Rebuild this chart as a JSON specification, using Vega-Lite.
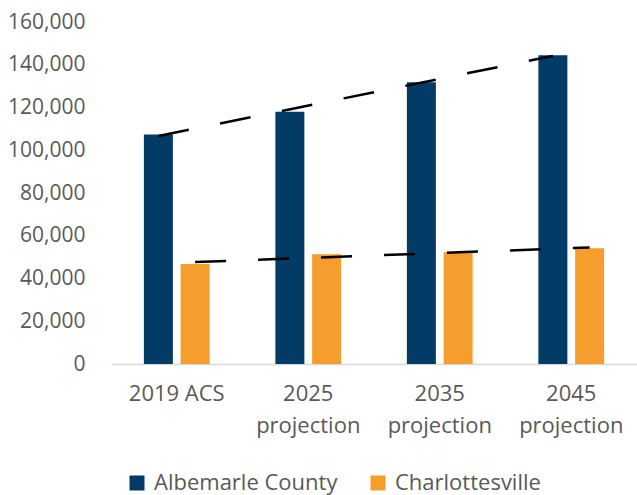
{
  "$schema": "https://vega.github.io/schema/vega-lite/v6.json",
  "width": 526,
  "height": 342,
  "autosize": {"type": "none"},
  "padding": {"left": 111, "top": 22, "right": 0, "bottom": 131},
  "background": "white",
  "config": {
    "view": {"stroke": null},
    "font": "Open Sans"
  },
  "data": {
    "values": [
      {"category": "2019 ACS", "idx": 1, "series": "Albemarle County", "value": 107400},
      {"category": "2025 projection", "idx": 2, "series": "Albemarle County", "value": 118000},
      {"category": "2035 projection", "idx": 3, "series": "Albemarle County", "value": 131800},
      {"category": "2045 projection", "idx": 4, "series": "Albemarle County", "value": 144400},
      {"category": "2019 ACS", "idx": 1, "series": "Charlottesville", "value": 46800},
      {"category": "2025 projection", "idx": 2, "series": "Charlottesville", "value": 51300},
      {"category": "2035 projection", "idx": 3, "series": "Charlottesville", "value": 52250},
      {"category": "2045 projection", "idx": 4, "series": "Charlottesville", "value": 54100}
    ]
  },
  "layer": [
    {
      "mark": {"type": "bar"},
      "encoding": {
        "x": {
          "field": "category",
          "type": "nominal",
          "sort": ["2019 ACS", "2025 projection", "2035 projection", "2045 projection"],
          "scale": {"paddingInner": 0.5, "paddingOuter": 0.25},
          "axis": {
            "title": null,
            "labelAngle": 0,
            "labelFont": "Open Sans",
            "labelFontSize": 22,
            "labelColor": "#595959",
            "labelPadding": 19,
            "labelLineHeight": 32,
            "labelLimit": 300,
            "labelExpr": "datum.label == '2019 ACS' ? datum.label : split(datum.label, ' ')",
            "ticks": false,
            "domainColor": "#D9D9D9",
            "domainWidth": 1.5,
            "grid": false
          }
        },
        "xOffset": {
          "field": "series",
          "type": "nominal",
          "scale": {"paddingInner": 0.211, "paddingOuter": 0}
        },
        "y": {
          "field": "value",
          "type": "quantitative",
          "scale": {"domain": [0, 160000], "nice": false},
          "axis": {
            "title": null,
            "values": [0, 20000, 40000, 60000, 80000, 100000, 120000, 140000, 160000],
            "format": ",d",
            "labelFont": "Open Sans",
            "labelFontSize": 21,
            "labelColor": "#595959",
            "labelPadding": 26,
            "ticks": false,
            "domain": false,
            "grid": false
          }
        },
        "color": {
          "field": "series",
          "type": "nominal",
          "scale": {"domain": ["Albemarle County", "Charlottesville"], "range": ["#013B66", "#F69E2D"]},
          "legend": {
            "title": null,
            "orient": "none",
            "direction": "horizontal",
            "legendX": 15,
            "legendY": 450,
            "symbolType": "square",
            "symbolSize": 225,
            "symbolStrokeWidth": 0,
            "labelFont": "Open Sans",
            "labelFontSize": 22,
            "labelColor": "#595959",
            "labelOffset": 6,
            "labelLimit": 400,
            "columnPadding": 29
          }
        }
      }
    },
    {
      "transform": [
        {"filter": "datum.series == 'Albemarle County'"},
        {"regression": "value", "on": "idx", "extent": [1, 4]}
      ],
      "mark": {"type": "line", "color": "black", "strokeWidth": 2.5, "strokeDash": [31, 32], "strokeCap": "butt"},
      "encoding": {
        "x": {"field": "idx", "type": "quantitative", "scale": {"domain": [0.63973, 4.63973], "nice": false, "zero": false}, "axis": null},
        "y": {"field": "value", "type": "quantitative"}
      }
    },
    {
      "transform": [
        {"filter": "datum.series == 'Charlottesville'"},
        {"regression": "value", "on": "idx", "extent": [1, 4]}
      ],
      "mark": {"type": "line", "color": "black", "strokeWidth": 2.5, "strokeDash": [31, 32], "strokeCap": "butt"},
      "encoding": {
        "x": {"field": "idx", "type": "quantitative", "scale": {"domain": [0.36027, 4.36027], "nice": false, "zero": false}, "axis": null},
        "y": {"field": "value", "type": "quantitative"}
      }
    }
  ],
  "resolve": {"scale": {"x": "independent"}}
}
